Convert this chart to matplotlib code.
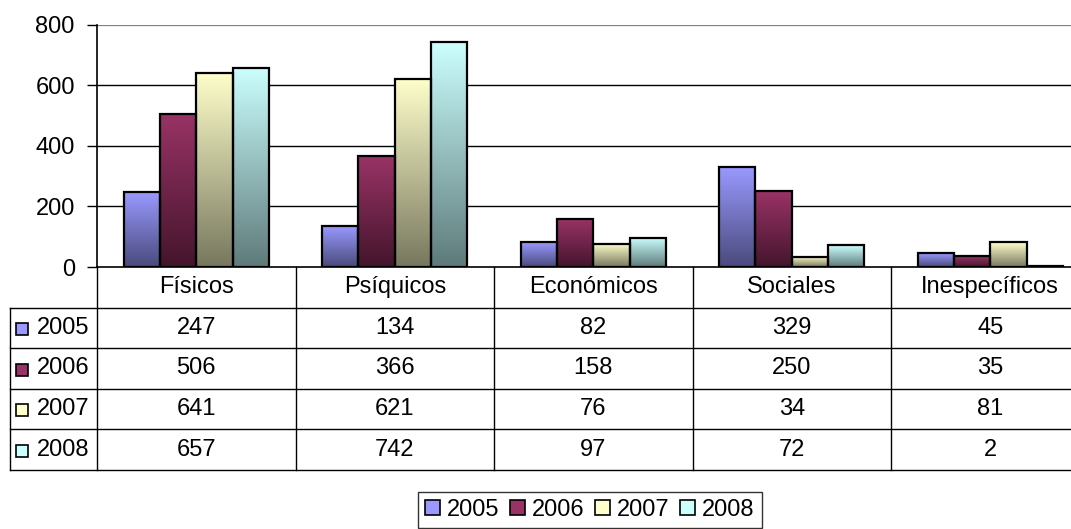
import matplotlib
matplotlib.use("Agg")
import matplotlib.pyplot as plt
import numpy as np
from matplotlib.colors import LinearSegmentedColormap
from matplotlib.patches import Patch

plt.rcParams['font.family'] = ['Liberation Sans', 'DejaVu Sans']

categories = ["Físicos", "Psíquicos", "Económicos", "Sociales", "Inespecíficos"]
years = ["2005", "2006", "2007", "2008"]
v2005 = [247, 134, 82, 329, 45]
v2006 = [506, 366, 158, 250, 35]
v2007 = [641, 621, 76, 34, 81]
v2008 = [657, 742, 97, 72, 2]
series = [v2005, v2006, v2007, v2008]
top_colors = ["#9999FF", "#993366", "#FFFFCC", "#CCFFFF"]
bottom_colors = ["#4A4A7C", "#44152C", "#77775E", "#5E7A7A"]
yticks = [0, 200, 400, 600, 800]

W, H = 1071, 529
fig = plt.figure(figsize=(W / 100, H / 100), dpi=100)
fs = 17

def px_axes(x0, y0, x1, y1):
    return fig.add_axes([x0 / W, 1 - y1 / H, (x1 - x0) / W, (y1 - y0) / H])

cat_w = 198.5
left = 97
right = left + cat_w * len(categories)
ax = px_axes(left, 24.5, right, 267)
ax.set_xlim(-0.5, len(categories) - 0.5)
ax.set_ylim(0, 800)

x = np.arange(len(categories))
bw = 0.183
grad = np.linspace(1, 0, 256).reshape(-1, 1)
for i, vals in enumerate(series):
    offs = (i - 1.5) * bw
    bars = ax.bar(x + offs, vals, width=bw, facecolor='none', edgecolor='black',
                  linewidth=1.6, zorder=4)
    cmap = LinearSegmentedColormap.from_list(f"g{i}", [bottom_colors[i], top_colors[i]])
    for b in bars:
        bx, by = b.get_x(), b.get_y()
        bwid, bh = b.get_width(), b.get_height()
        if bh <= 0:
            continue
        im = ax.imshow(grad, extent=[bx, bx + bwid, by, by + bh], aspect='auto',
                       cmap=cmap, vmin=0, vmax=1, zorder=3, interpolation='bilinear')
        im.set_clip_path(b)
ax.set_xlim(-0.5, len(categories) - 0.5)
ax.set_ylim(0, 800)

for t in yticks[1:-1]:
    ax.axhline(t, color='black', linewidth=1.0, zorder=1)
ax.axhline(800, color='#808080', linewidth=1.6, zorder=1)
ax.set_yticks(yticks)
ax.set_yticklabels([str(t) for t in yticks], fontsize=fs)
ax.tick_params(axis='y', length=7, width=1, pad=9, direction='out')
ax.set_xticks([])
for s in ['top', 'right']:
    ax.spines[s].set_visible(False)
ax.spines['left'].set_linewidth(1.2)
ax.spines['bottom'].set_linewidth(1.2)
ax.spines['bottom'].set_zorder(5)

# data table
tax = px_axes(left, 267, right, 470)
tax.set_xlim(-0.5, len(categories) - 0.5)
tax.set_ylim(5, 0)
tax.axis('off')
lab_left = -0.5 - 87 / cat_w
lk = dict(color='black', linewidth=1.0, clip_on=False)
for k in range(len(categories) + 1):
    tax.plot([-0.5 + k, -0.5 + k], [0, 5], **lk)
tax.plot([lab_left, lab_left], [1, 5], **lk)
for r in range(1, 6):
    tax.plot([lab_left, len(categories) - 0.5], [r, r], **lk)
for j, c in enumerate(categories):
    tax.text(j, 0.5, c, ha='center', va='center', fontsize=fs, clip_on=False)
for i, vals in enumerate(series):
    for j, v in enumerate(vals):
        tax.text(j, i + 1.5, str(v), ha='center', va='center', fontsize=fs)
    sq_w = 12 / cat_w
    tax.add_patch(plt.Rectangle((lab_left + 6 / cat_w, i + 1.5 - 0.12), sq_w, 0.3,
                                facecolor=top_colors[i], edgecolor='black', linewidth=1.2,
                                clip_on=False))
    tax.text(lab_left + 27 / cat_w, i + 1.5, years[i], ha='left', va='center',
             fontsize=fs, clip_on=False)

handles = [Patch(facecolor=top_colors[i], edgecolor='black', linewidth=1.2) for i in range(4)]
leg = fig.legend(handles, years, loc='center', bbox_to_anchor=(590 / W, 1 - 510 / H),
                 ncol=4, fontsize=fs, frameon=True, fancybox=False, handlelength=0.62,
                 handleheight=0.62, handletextpad=0.3, columnspacing=0.45, borderpad=0.3,
                 borderaxespad=0)
leg.get_frame().set_edgecolor('black')
leg.get_frame().set_linewidth(1.0)

fig.savefig("out.png", dpi=100)
